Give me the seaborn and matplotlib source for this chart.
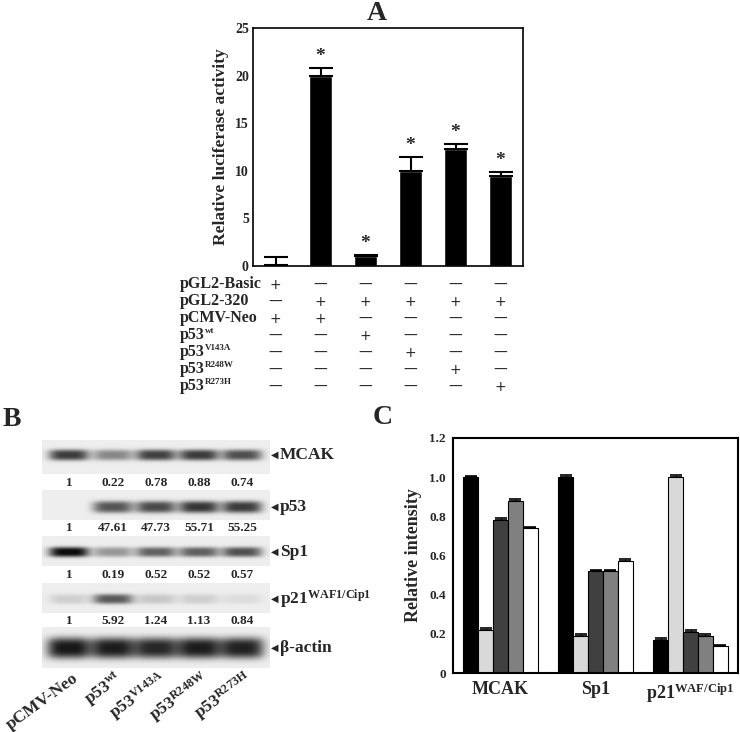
import numpy as np
import pandas as pd
import seaborn as sns
import matplotlib.pyplot as plt
from matplotlib.transforms import blended_transform_factory

# ---- panel A data
luc_vals = [0.15, 20.0, 1.05, 10.0, 12.3, 9.5]
luc_err = [0.8, 0.8, 0.1, 1.5, 0.5, 0.4]
luc_star = [False, True, True, True, True, True]

# row label = (base, superscript)
table_rows = [('pGL2-Basic', ''), ('pGL2-320', ''), ('pCMV-Neo', ''),
              ('p53', 'wt'), ('p53', 'V143A'), ('p53', 'R248W'), ('p53', 'R273H')]
table_signs = [
    '+-----',
    '-+++++',
    '++----',
    '--+---',
    '---+--',
    '----+-',
    '-----+',
]

blot_proteins = ['MCAK', 'p53', 'Sp1', r'p21$^{\mathrm{WAF1/Cip1}}$', 'β-actin']
blot_dark = {
    'MCAK': [0.70, 0.40, 0.68, 0.70, 0.62],
    'p53': [0.0, 0.60, 0.64, 0.72, 0.70],
    'Sp1': [0.90, 0.34, 0.55, 0.56, 0.62],
    'p21': [0.12, 0.58, 0.15, 0.12, 0.07],
    'actin': [0.84, 0.82, 0.78, 0.82, 0.80],
}
blot_ratio = [
    ['1', '0.22', '0.78', '0.88', '0.74'],
    ['1', '47.61', '47.73', '55.71', '55.25'],
    ['1', '0.19', '0.52', '0.52', '0.57'],
    ['1', '5.92', '1.24', '1.13', '0.84'],
]
lanes = ['pCMV-Neo', r'p53$^{\mathrm{wt}}$', r'p53$^{\mathrm{V143A}}$',
         r'p53$^{\mathrm{R248W}}$', r'p53$^{\mathrm{R273H}}$']

# ---- panel C data
groups = ['MCAK', 'Sp1', r'p21$^{\mathrm{WAF/Cip1}}$']
rel_vals = {
    'pCMV-Neo': [1.0, 1.0, 0.17],
    'p53wt': [0.22, 0.19, 1.0],
    'p53V143A': [0.78, 0.52, 0.21],
    'p53R248W': [0.88, 0.52, 0.19],
    'p53R273H': [0.74, 0.57, 0.14],
}
rel_err = {
    'pCMV-Neo': [0.008, 0.012, 0.008],
    'p53wt': [0.008, 0.008, 0.012],
    'p53V143A': [0.012, 0.008, 0.008],
    'p53R248W': [0.01, 0.008, 0.008],
    'p53R273H': [0.008, 0.01, 0.004],
}
bar_cols = ['#000000', '#d9d9d9', '#404040', '#808080', '#ffffff']

sns.set_style("white")
plt.rcParams['font.family'] = ['Liberation Serif', 'DejaVu Sans']
plt.rcParams['font.weight'] = 'bold'
plt.rcParams['mathtext.fontset'] = 'custom'
plt.rcParams['mathtext.rm'] = 'Liberation Serif:bold'
plt.rcParams['mathtext.it'] = 'Liberation Serif:bold'
plt.rcParams['mathtext.bf'] = 'Liberation Serif:bold'

fig = plt.figure(figsize=(7.4, 7.32), dpi=100)
W, H = 740, 732

# overlay axes in pixel coordinates for labels / blot
ov = fig.add_axes([0, 0, 1, 1])
ov.set_xlim(0, W)
ov.set_ylim(H, 0)
ov.axis('off')

# ------------------------------------------------------------ panel A
axA = fig.add_axes([253 / W, 1 - 266 / H, 270 / W, 238 / H])
sns.barplot(x=list(range(6)), y=luc_vals, color='black', width=0.51,
            saturation=1, ax=axA)
for p, e, s in zip(axA.patches, luc_err, luc_star):
    cx = p.get_x() + p.get_width() / 2
    h = p.get_height()
    axA.errorbar(cx, h, yerr=[[0], [e]], color='black', capsize=8.3,
                 elinewidth=1.5, capthick=1.5)
    if s:
        axA.text(cx, h + e + 0.3, '*', ha='center', va='bottom',
                 fontsize=14, fontweight='bold')
axA.set_xlim(-0.5, 5.5)
axA.set_ylim(0, 25)
axA.set_yticks(range(0, 26, 5))
axA.set_xticks([0.5, 1.5, 2.5, 3.5, 4.5])
axA.set_xticklabels([])
axA.tick_params(axis='x', direction='in', length=4, width=0.8)
axA.tick_params(axis='y', direction='in', length=3, labelsize=10, pad=3)
for lab in axA.get_yticklabels():
    lab.set_fontweight('bold')
axA.set_ylabel('Relative luciferase activity', fontsize=12.5,
               fontweight='bold', labelpad=4)
for sp in axA.spines.values():
    sp.set_linewidth(1.2)
    sp.set_color('black')

trA = blended_transform_factory(axA.transData, ov.transData)
row_y = [284, 301, 318, 335, 352, 369, 386]
for (base, sup), signs, y in zip(table_rows, table_signs, row_y):
    t = ov.text(180, y, base, ha='left', va='center', fontsize=11.5)
    if sup:
        ov.annotate(sup, xy=(1.02, 0.5), xycoords=t, ha='left', va='bottom',
                    fontsize=6.5)
    for i, c in enumerate(signs):
        sym = '+' if c == '+' else '—'
        ov.text(i, y + 1, sym, transform=trA, ha='center', va='center',
                fontsize=10, fontweight='normal', family=['DejaVu Sans'])

# ------------------------------------------------------------ panel B
lane_x = [69, 113, 156, 199, 242]
strips = [  # key, top, bottom, band center, half height, half width
    ('MCAK', 440, 474, 455, 5.5, 20),
    ('p53', 490, 520, 507, 6.0, 20),
    ('Sp1', 536, 566, 552, 5.0, 20),
    ('p21', 583, 613, 599, 5.0, 20),
    ('actin', 627, 668, 648, 10.5, 22),
]
x0, x1 = 42, 270
xs = np.arange(x0, x1) + 0.5
for key, top, bot, cy, hh, hw in strips:
    ys = np.arange(top, bot) + 0.5
    X, Y = np.meshgrid(xs, ys)
    img = np.full(X.shape, 0.93)
    for lx, d in zip(lane_x, blot_dark[key]):
        fx = np.exp(-np.abs((X - lx) / hw) ** 4)
        fy = np.exp(-np.abs((Y - cy) / hh) ** 3)
        img -= d * fx * fy
    img = np.clip(img, 0.05, 1)
    ov.imshow(img, cmap='gray', vmin=0, vmax=1, extent=(x0, x1, bot, top),
              aspect='auto', interpolation='bilinear')
    lab = blot_proteins[[s[0] for s in strips].index(key)]
    ov.text(271, cy, '◀', ha='left', va='center', fontsize=7,
            family=['DejaVu Sans'])
    ov.text(280, cy, lab, ha='left', va='center', fontsize=12.5)

num_y = [483, 528, 575, 621]
for vals, y in zip(blot_ratio, num_y):
    for lx, v in zip(lane_x, vals):
        ov.text(lx, y, v, ha='center', va='center', fontsize=9.5)

for lx, lab in zip(lane_x, lanes):
    ov.text(lx + 8, 677, lab, ha='right', va='center', rotation=36,
            rotation_mode='anchor', fontsize=12.5)

ov.set_xlim(0, W)
ov.set_ylim(H, 0)

# ------------------------------------------------------------ panel C
axC = fig.add_axes([453 / W, 1 - 673 / H, 285 / W, 235 / H])
rows = []
for lane, vals in rel_vals.items():
    for g, v in zip(groups, vals):
        rows.append({'group': g, 'lane': lane, 'value': v})
df = pd.DataFrame(rows)
sns.barplot(data=df, x='group', y='value', hue='lane', palette=bar_cols,
            width=0.78, saturation=1, edgecolor='black', linewidth=0.8,
            legend=False, ax=axC)
for cont, lane in zip(axC.containers, rel_vals):
    for p, e in zip(cont.patches, rel_err[lane]):
        cx = p.get_x() + p.get_width() / 2
        axC.errorbar(cx, p.get_height(), yerr=[[0], [e]], color='black',
                     capsize=4, elinewidth=0.8, capthick=1.2)
axC.set_xlim(-0.5, 2.5)
axC.set_ylim(0, 1.2)
axC.set_yticks(np.arange(0, 1.21, 0.2))
axC.set_yticklabels(['0'] + ['%.1f' % v for v in np.arange(0.2, 1.21, 0.2)])
axC.set_xticks([0, 1, 2])
axC.set_xticklabels(groups)
axC.set_xticks([0.5, 1.5], minor=True)
axC.tick_params(axis='x', which='major', length=0, labelsize=13, pad=6)
axC.tick_params(axis='x', which='minor', direction='out', length=4, width=0.8)
axC.tick_params(axis='y', direction='out', length=3, labelsize=9.5, pad=2)
for lab in axC.get_yticklabels() + axC.get_xticklabels():
    lab.set_fontweight('bold')
axC.set_xlabel('')
axC.set_ylabel('Relative intensity', fontsize=13, fontweight='bold',
               labelpad=5)
for sp in axC.spines.values():
    sp.set_linewidth(1.5)
    sp.set_color('black')

# panel letters
ov.text(377, 13, 'A', ha='center', va='center', fontsize=20)
ov.text(12, 420, 'B', ha='center', va='center', fontsize=20)
ov.text(383, 417, 'C', ha='center', va='center', fontsize=20)

fig.savefig('out.png', dpi=100)
